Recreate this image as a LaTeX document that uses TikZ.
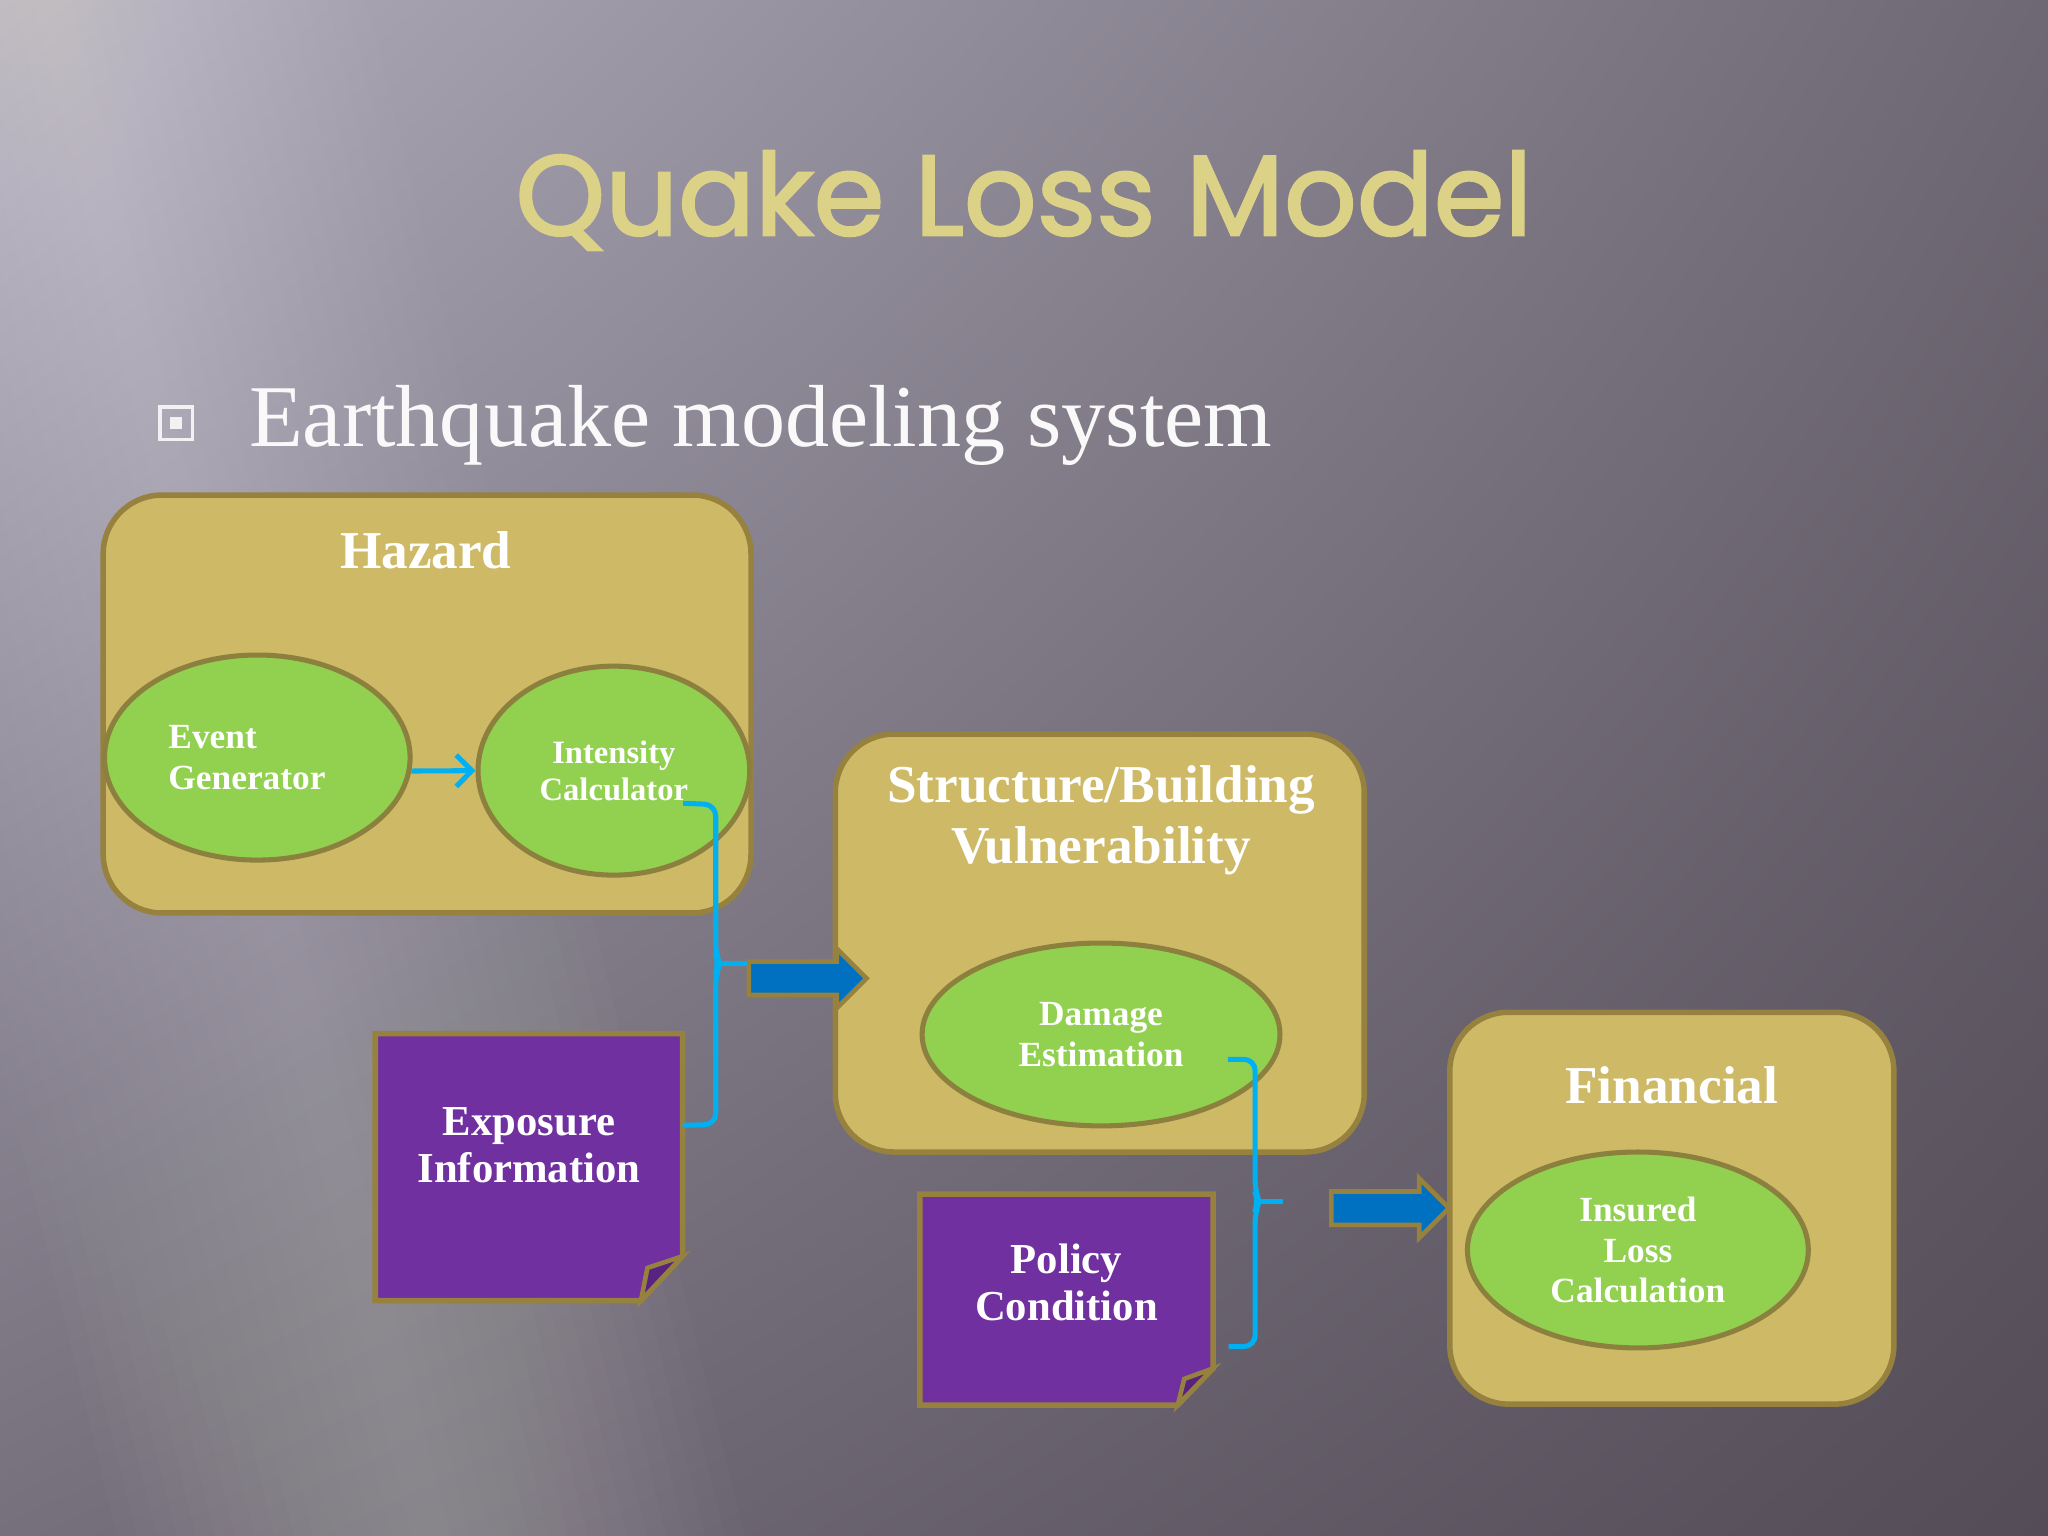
\documentclass[tikz,border=0pt]{standalone}
\usepackage{fontspec}
\setmainfont{Liberation Serif}
\newfontfamily\titlefont[FakeBold=2]{Poppins}
\usepackage{xcolor}
\usetikzlibrary{positioning, shapes.geometric, shapes.arrows, arrows.meta, shadings}

\definecolor{bgul}{RGB}{178,174,188}
\definecolor{bgur}{RGB}{110,104,116}
\definecolor{bgll}{RGB}{118,112,125}
\definecolor{bglr}{RGB}{84,77,88}
\definecolor{panelfill}{RGB}{205,185,102}
\definecolor{panelline}{RGB}{150,130,62}
\definecolor{ovalgreen}{RGB}{146,208,80}
\definecolor{ovalline}{RGB}{140,128,62}
\definecolor{notepurple}{RGB}{112,48,160}
\definecolor{notefold}{RGB}{88,34,130}
\definecolor{bracecyan}{RGB}{0,176,240}
\definecolor{flowblue}{RGB}{0,112,192}
\definecolor{titlegold}{RGB}{220,210,135}

\begin{document}
\begin{tikzpicture}[
    x=0.1mm, y=-0.1mm,
    panel/.style={draw=panelline, fill=panelfill, line width=1.2pt, rounded corners=0.45cm, inner sep=0pt},
    paneltitle/.style={text=white, font=\fontsize{11.6}{13.4}\selectfont\bfseries, align=center},
    oval/.style={ellipse, draw=ovalline, fill=ovalgreen, line width=1.1pt, inner sep=0pt,
        text=white, font=\fontsize{7.7}{8.8}\selectfont\bfseries, align=center},
    note/.style={rectangle, inner sep=0pt},
    notetext/.style={text=white, font=\fontsize{9.3}{10.2}\selectfont\bfseries, align=center},
    flow/.style={draw=bracecyan, line width=1.1pt, -{Straight Barb[length=1.2mm, width=2.4mm]}},
    brace/.style={draw=bracecyan, line width=1.1pt, rounded corners=2.5pt},
    blockarrow/.style={single arrow, draw=panelline, fill=flowblue, line width=1pt, minimum height=0.9cm,
        inner xsep=0pt, inner ysep=0.11cm, single arrow head extend=0.1cm}
]
\useasboundingbox (0,0) rectangle (1568,1176);
\shade[upper left=bgul, upper right=bgur, lower left=bgll, lower right=bglr] (0,0) rectangle (1568,1176);
\foreach \w in {15,30,...,240}
    \fill[white, opacity=0.016] (40-\w,0) -- (40+\w,0) -- (330+\w,1176) -- (330-\w,1176) -- cycle;

\node[anchor=base, text=titlegold, font=\titlefont\fontsize{24.8}{30}\selectfont] (title) at (784,180) {Quake Loss Model};
\node[anchor=base west, inner sep=0pt, text=white!95!gray, font=\fontsize{19.2}{23}\selectfont] (subtitle) at (190,342) {Earthquake modeling system};
\node[draw=white!90!gray, line width=0.8pt, minimum size=0.25cm, inner sep=0pt,
    path picture={\fill[white!90!gray] ([xshift=-0.45mm,yshift=-0.45mm]path picture bounding box.center)
        rectangle ([xshift=0.45mm,yshift=0.45mm]path picture bounding box.center);}] (bullet) at (135,324) {};

\node[panel, minimum width=4.96cm, minimum height=3.2cm] (hazard) at (327,539) {};
\node[paneltitle] (hazardtitle) at (326,421) {Hazard};
\node[oval, minimum width=2.34cm, minimum height=1.57cm, text width=1.36cm, align=left] (eventgen) at (197,580) {Event\\Generator};
\node[oval, minimum width=2.08cm, minimum height=1.6cm, font=\fontsize{7.1}{8.1}\selectfont\bfseries] (intensity) at (470,590) {Intensity\\Calculator};

\node[panel, minimum width=4.05cm, minimum height=3.2cm] (vuln) at (842,722) {};
\node[paneltitle] (vulntitle) at (843,628) {Structure/Building\\Vulnerability};
\node[oval, minimum width=2.74cm, minimum height=1.4cm] (damage) at (843,792) {Damage\\Estimation};

\node[panel, minimum width=3.4cm, minimum height=3.0cm] (financial) at (1280,925) {};
\node[paneltitle] (financialtitle) at (1280,831) {Financial};
\node[oval, minimum width=2.61cm, minimum height=1.5cm] (insured) at (1254,957) {Insured\\Loss\\Calculation};

\node[note, minimum width=2.34cm, minimum height=2.03cm] (exposure) at (405,893.5) {};
\filldraw[fill=notepurple, draw=panelline, line width=1.2pt] (exposure.north west) -- (exposure.north east)
    -- ([yshift=0.34cm]exposure.south east) -- ([xshift=-0.32cm]exposure.south east) -- (exposure.south west) -- cycle;
\filldraw[fill=notefold, draw=panelline, line width=1pt] ([yshift=0.34cm]exposure.south east)
    -- ([xshift=-0.27cm,yshift=0.25cm]exposure.south east) -- ([xshift=-0.32cm]exposure.south east) -- cycle;
\node[notetext] (exposuretext) at ([yshift=0.165cm]exposure.center) {Exposure\\Information};

\node[note, minimum width=2.23cm, minimum height=1.6cm] (policy) at (816.5,995) {};
\filldraw[fill=notepurple, draw=panelline, line width=1.2pt] (policy.north west) -- (policy.north east)
    -- ([yshift=0.28cm]policy.south east) -- ([xshift=-0.27cm]policy.south east) -- (policy.south west) -- cycle;
\filldraw[fill=notefold, draw=panelline, line width=1pt] ([yshift=0.28cm]policy.south east)
    -- ([xshift=-0.22cm,yshift=0.2cm]policy.south east) -- ([xshift=-0.27cm]policy.south east) -- cycle;
\node[notetext] (policytext) at ([yshift=0.13cm]policy.center) {Policy\\Condition};

\node[blockarrow] (arrow1) at (612,749) {};
\node[blockarrow] (arrow2) at (1058,925) {};

\draw[flow] (eventgen.-5) -- (intensity.west);

\coordinate (brace1tip) at (572,738);
\draw[brace] ([xshift=0.53cm,yshift=-0.25cm]intensity.center) -- (548,616) -- (548,731) -- (551,738)
    -- (548,745) -- (548,861) -- ([yshift=0.32cm]exposure.east);
\draw[brace] (551,738) -- (brace1tip);

\coordinate (brace2tip) at (982,920);
\draw[brace] ([xshift=0.97cm,yshift=-0.19cm]damage.center) -- (961,811) -- (961,913) -- (964,920)
    -- (961,927) -- (961,1031) -- ([xshift=0.12cm,yshift=-0.36cm]policy.east);
\draw[brace] (964,920) -- (brace2tip);
\end{tikzpicture}
\end{document}
